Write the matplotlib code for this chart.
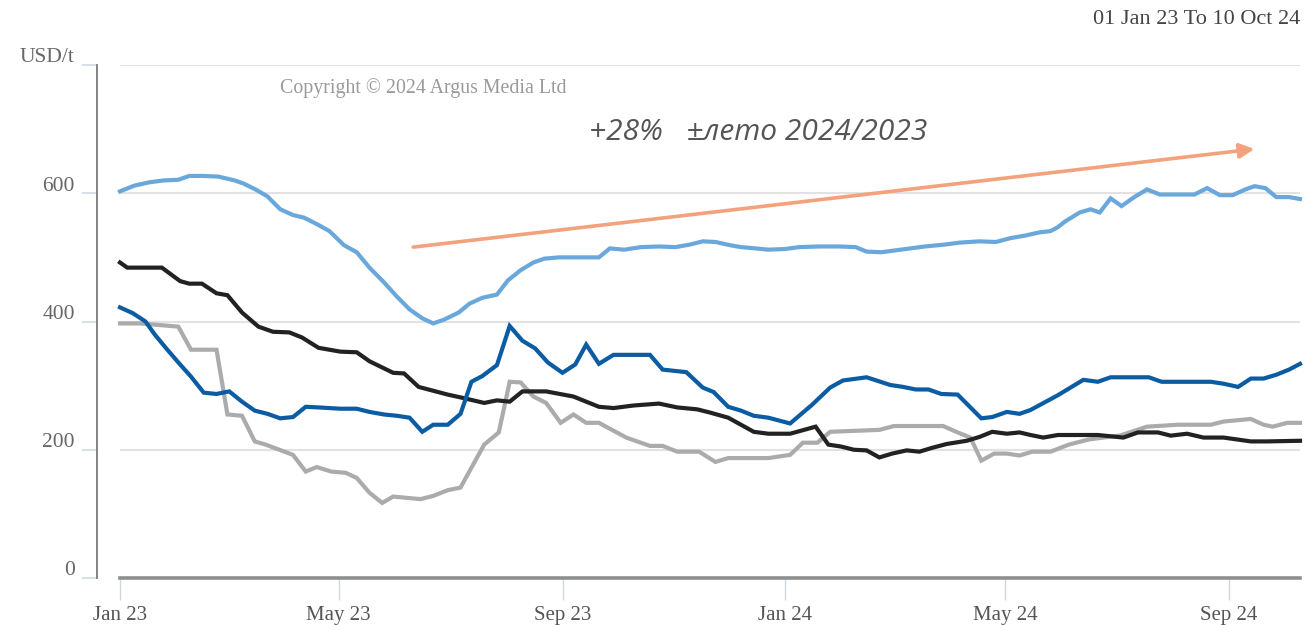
import matplotlib
matplotlib.use("Agg")
import matplotlib.pyplot as plt
import matplotlib.transforms as mtransforms
import pandas as pd

# ---------------- data (USD/t) ----------------
light_dates = ["2023-01-01","2023-01-09","2023-01-17","2023-01-25","2023-02-02","2023-02-08","2023-02-16","2023-02-24",
               "2023-03-05","2023-03-10","2023-03-17","2023-03-23","2023-03-30","2023-04-06","2023-04-12","2023-04-19",
               "2023-04-26","2023-05-04","2023-05-11","2023-05-18","2023-05-26","2023-06-02","2023-06-09","2023-06-16",
               "2023-06-22","2023-06-28","2023-07-06","2023-07-12","2023-07-19","2023-07-27","2023-08-02","2023-08-09",
               "2023-08-16","2023-08-22","2023-08-30","2023-09-21","2023-09-27","2023-10-05","2023-10-14","2023-10-24",
               "2023-11-02","2023-11-10","2023-11-17","2023-11-24","2023-12-02","2023-12-08","2023-12-16","2023-12-23",
               "2024-01-01","2024-01-09","2024-01-20","2024-01-31","2024-02-09","2024-02-15","2024-02-23","2024-03-02",
               "2024-03-10","2024-03-18","2024-03-29","2024-04-06","2024-04-17","2024-04-26","2024-05-04","2024-05-12",
               "2024-05-20","2024-05-26","2024-05-30","2024-06-03","2024-06-11","2024-06-17","2024-06-22","2024-06-28",
               "2024-07-04","2024-07-11","2024-07-18","2024-07-25","2024-08-05","2024-08-13","2024-08-20","2024-08-27",
               "2024-09-03","2024-09-10","2024-09-15","2024-09-21","2024-09-27","2024-10-04","2024-10-10"]
light_vals = [603,612,617,620,621,627,627,626,620,615,605,595,575,566,562,552,541,519,508,484,461,439,419,405,
              397,403,414,428,437,442,464,480,492,498,500,500,514,512,516,517,516,520,525,524,519,516,514,512,
              513,516,517,517,516,509,508,511,514,517,520,523,525,524,530,534,539,541,547,556,570,575,570,592,
              580,594,606,598,598,598,608,597,597,606,611,608,594,594,591]

dark_dates = ["2023-01-01","2023-01-08","2023-01-15","2023-01-20","2023-01-27","2023-02-03","2023-02-09","2023-02-16",
              "2023-02-23","2023-03-02","2023-03-09","2023-03-16","2023-03-23","2023-03-30","2023-04-06","2023-04-13",
              "2023-04-20","2023-05-02","2023-05-11","2023-05-18","2023-05-26","2023-06-02","2023-06-09","2023-06-16",
              "2023-06-22","2023-06-30","2023-07-07","2023-07-13","2023-07-19","2023-07-27","2023-08-03","2023-08-10",
              "2023-08-17","2023-08-24","2023-09-01","2023-09-08","2023-09-14","2023-09-21","2023-09-29","2023-10-19",
              "2023-10-26","2023-11-08","2023-11-17","2023-11-23","2023-12-01","2023-12-08","2023-12-15","2023-12-23",
              "2024-01-04","2024-01-16","2024-01-26","2024-02-02","2024-02-15","2024-02-28","2024-03-06","2024-03-13",
              "2024-03-20","2024-03-27","2024-04-05","2024-04-18","2024-04-24","2024-05-02","2024-05-09","2024-05-15",
              "2024-05-30","2024-06-06","2024-06-13","2024-06-21","2024-06-28","2024-07-19","2024-07-26","2024-08-22",
              "2024-08-29","2024-09-06","2024-09-13","2024-09-20","2024-09-27","2024-10-04","2024-10-10"]
dark_vals = [422,413,400,380,356,333,314,289,287,291,275,261,256,249,251,267,266,264,264,259,255,253,250,228,
             239,239,256,306,315,332,393,370,358,336,320,333,364,334,348,348,325,321,297,290,267,261,253,250,
             241,270,297,308,313,301,298,294,294,287,286,249,251,259,256,262,285,297,309,306,313,313,306,306,
             303,298,311,311,317,325,334]

black_dates = ["2023-01-01","2023-01-05","2023-01-24","2023-02-03","2023-02-08","2023-02-15","2023-02-23","2023-03-01",
               "2023-03-09","2023-03-18","2023-03-26","2023-04-04","2023-04-11","2023-04-20","2023-05-02","2023-05-11",
               "2023-05-18","2023-05-31","2023-06-06","2023-06-14","2023-06-30","2023-07-08","2023-07-20","2023-07-27",
               "2023-08-03","2023-08-10","2023-08-23","2023-09-07","2023-09-14","2023-09-21","2023-09-29","2023-10-10",
               "2023-10-24","2023-11-03","2023-11-14","2023-11-21","2023-12-01","2023-12-08","2023-12-15","2023-12-23",
               "2024-01-04","2024-01-18","2024-01-25","2024-02-01","2024-02-08","2024-02-15","2024-02-22","2024-02-29",
               "2024-03-08","2024-03-15","2024-03-22","2024-03-30","2024-04-10","2024-04-17","2024-04-24","2024-05-02",
               "2024-05-09","2024-05-15","2024-05-22","2024-05-30","2024-06-21","2024-07-05","2024-07-13","2024-07-24",
               "2024-07-31","2024-08-09","2024-08-18","2024-08-29","2024-09-13","2024-09-22","2024-10-10"]
black_vals = [492,484,484,463,459,459,444,441,414,392,384,383,375,359,353,352,338,320,319,298,286,281,273,277,
              275,291,291,283,275,267,265,269,272,266,263,258,250,239,228,225,225,236,208,205,200,199,188,194,
              199,197,203,209,214,220,228,225,227,223,219,223,223,219,227,227,222,225,219,219,213,213,214]

gray_dates = ["2023-01-01","2023-01-12","2023-02-02","2023-02-09","2023-02-23","2023-03-01","2023-03-09","2023-03-16",
              "2023-03-22","2023-04-06","2023-04-13","2023-04-19","2023-04-27","2023-05-05","2023-05-11","2023-05-18",
              "2023-05-25","2023-05-31","2023-06-15","2023-06-22","2023-06-30","2023-07-07","2023-07-13","2023-07-20",
              "2023-07-28","2023-08-03","2023-08-09","2023-08-16","2023-08-23","2023-08-31","2023-09-07","2023-09-14",
              "2023-09-21","2023-10-06","2023-10-19","2023-10-26","2023-11-03","2023-11-15","2023-11-24","2023-12-01",
              "2023-12-23","2024-01-04","2024-01-11","2024-01-19","2024-01-26","2024-02-22","2024-03-01","2024-03-28",
              "2024-04-05","2024-04-12","2024-04-18","2024-04-25","2024-05-02","2024-05-09","2024-05-16","2024-05-26",
              "2024-06-05","2024-06-16","2024-06-24","2024-07-03","2024-07-18","2024-08-04","2024-08-22","2024-08-29",
              "2024-09-13","2024-09-20","2024-09-25","2024-10-03","2024-10-10"]
gray_vals = [397,397,392,356,356,255,253,213,208,192,166,173,166,164,156,133,117,127,123,128,137,141,172,208,
             227,306,305,283,273,242,255,242,242,219,206,206,197,197,181,187,187,192,211,211,228,231,237,237,
             227,219,183,194,194,191,197,197,208,216,219,222,236,239,239,244,248,239,236,242,242]

arrow_start = ("2023-06-11", 516)
arrow_end = ("2024-09-15", 669)

x_ticks = ["2023-01-01","2023-05-01","2023-09-01","2024-01-01","2024-05-01","2024-09-01"]
x_tick_labels = ["Jan 23","May 23","Sep 23","Jan 24","May 24","Sep 24"]
y_ticks = [0, 200, 400, 600, 800]
y_tick_labels = ["0", "200", "400", "600", "USD/t"]

# ---------------- figure ----------------
W, H = 1304, 625
fig = plt.figure(figsize=(W/100, H/100), dpi=100)
ax = fig.add_axes([120/W, 1-578/H, (1300-120)/W, (578-65)/H])

serif = ["Liberation Serif", "DejaVu Serif"]

# spines first (repositioning a spine resets its ticks)
for s in ["top", "right"]:
    ax.spines[s].set_visible(False)
ax.spines["left"].set_position(("outward", 16.5))
ax.spines["left"].set_color("#7a7a7a")
ax.spines["left"].set_linewidth(1.3)
ax.spines["bottom"].set_color("#8f8f8f")
ax.spines["bottom"].set_linewidth(2.6)

series = [
    (gray_dates, gray_vals, "#ababab"),
    (black_dates, black_vals, "#222222"),
    (dark_dates, dark_vals, "#0b5ca2"),
    (light_dates, light_vals, "#6aa8dc"),
]
for d, v, c in series:
    ax.plot(pd.to_datetime(d), v, color=c, lw=3.0, solid_joinstyle="miter", clip_on=False)

ax.annotate("", xy=(pd.Timestamp(arrow_end[0]), arrow_end[1]),
            xytext=(pd.Timestamp(arrow_start[0]), arrow_start[1]),
            arrowprops=dict(arrowstyle="-|>", color="#f3a27d", lw=2.6, mutation_scale=22,
                            shrinkA=0, shrinkB=0))

ax.set_xlim(pd.Timestamp("2023-01-01"), pd.Timestamp("2024-10-10"))
ax.set_ylim(0, 800)

ax.tick_params(axis="y", length=11, width=1.2, color="#cfd8e2", pad=5)
ax.tick_params(axis="x", length=16, width=1.0, color="#cdd8e3", pad=4)

ax.set_xticks(pd.to_datetime(x_ticks))
ax.set_xticklabels(x_tick_labels, fontfamily=serif, fontsize=15, color="#555555")
ax.set_yticks(y_ticks)
ax.set_yticklabels(y_tick_labels, fontfamily=serif, fontsize=15.5, color="#666666")
up = mtransforms.ScaledTranslation(0, 7/72, fig.dpi_scale_trans)
for lab in ax.get_yticklabels():
    lab.set_transform(lab.get_transform() + up)

ax.grid(axis="y", color="#e2e2e2", lw=1.5)
ax.set_axisbelow(True)

fig.text(280/W, 1-88/H, "Copyright © 2024 Argus Media Ltd", fontfamily=serif, fontsize=14.3,
         color="#9a9a9a", ha="left", va="center")
fig.text(1300/W, 1-20/H, "01 Jan 23 To 10 Oct 24", fontfamily=serif, fontsize=16,
         color="#444444", ha="right", va="center")
fig.text(589/W, 1-132/H, "+28%   ±лето 2024/2023", fontfamily=["Open Sans", "DejaVu Sans"],
         fontstyle="italic", fontsize=21.5, color="#555555", ha="left", va="center")

fig.savefig("out.png", dpi=100, facecolor="white")
